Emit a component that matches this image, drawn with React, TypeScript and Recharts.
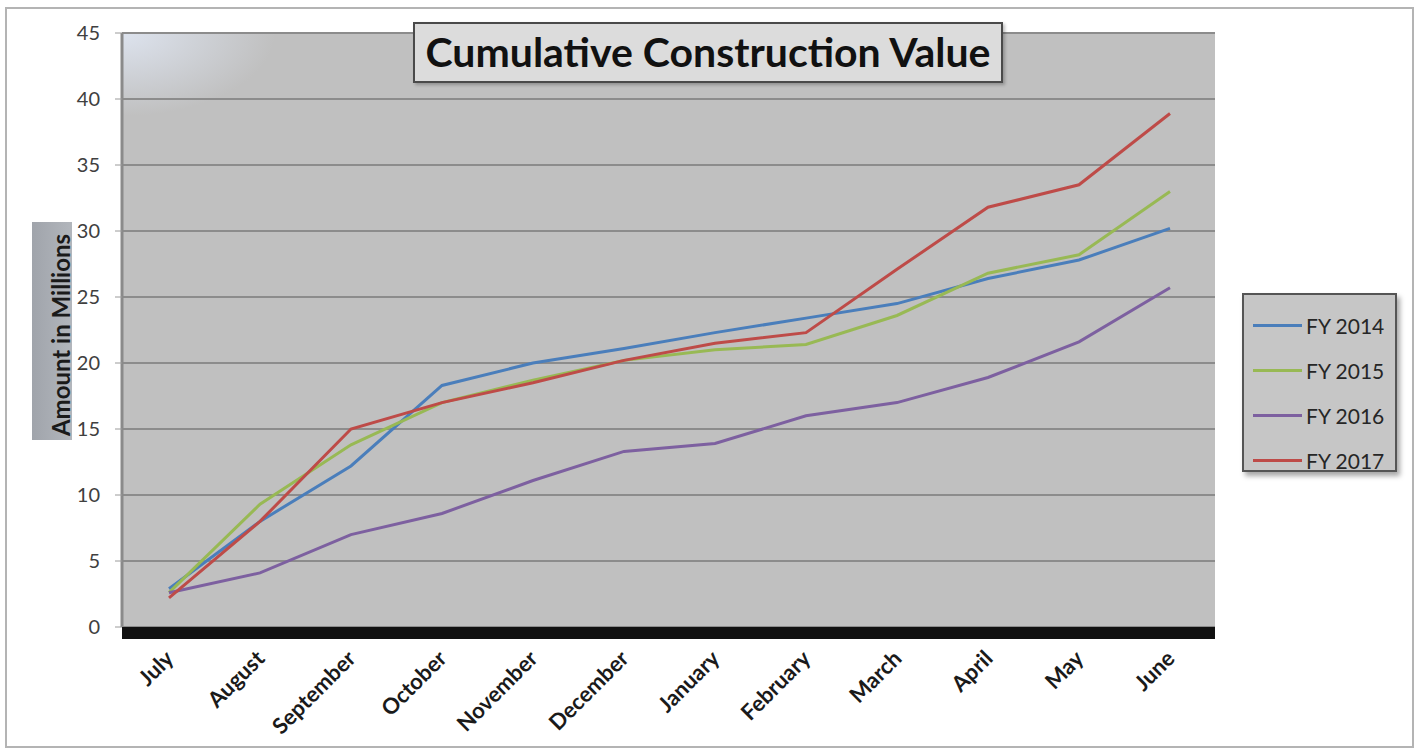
import React from "react";
import {
  CartesianGrid,
  Legend,
  Line,
  LineChart,
  XAxis,
  YAxis,
} from "recharts";

const months = [
  "July",
  "August",
  "September",
  "October",
  "November",
  "December",
  "January",
  "February",
  "March",
  "April",
  "May",
  "June",
];

const fy2014 = [2.9, 8.0, 12.2, 18.3, 20.0, 21.1, 22.3, 23.4, 24.5, 26.4, 27.8, 30.2];
const fy2015 = [2.6, 9.3, 13.8, 17.0, 18.7, 20.2, 21.0, 21.4, 23.6, 26.8, 28.2, 33.0];
const fy2016 = [2.6, 4.1, 7.0, 8.6, 11.1, 13.3, 13.9, 16.0, 17.0, 18.9, 21.6, 25.7];
const fy2017 = [2.2, 8.0, 15.0, 17.0, 18.5, 20.2, 21.5, 22.3, 27.1, 31.8, 33.5, 38.9];

const yTicks = [0, 5, 10, 15, 20, 25, 30, 35, 40, 45];

const series = [
  { key: "fy2014", name: "FY 2014", values: fy2014, color: "#4a7ebb" },
  { key: "fy2015", name: "FY 2015", values: fy2015, color: "#98b954" },
  { key: "fy2016", name: "FY 2016", values: fy2016, color: "#7d60a0" },
  { key: "fy2017", name: "FY 2017", values: fy2017, color: "#be4b48" },
];

const data = months.map((m, i) => {
  const row: Record<string, string | number> = { month: m };
  series.forEach((s) => (row[s.key] = s.values[i]));
  return row;
});

const FONT = "Lato, 'Open Sans', sans-serif";

function MonthTick({ x, y, payload }: any) {
  return (
    <g transform={`translate(${x + 6},${y + 33})`}>
      <text
        transform="rotate(-45)"
        textAnchor="end"
        fontFamily={FONT}
        fontWeight={700}
        fontSize={22}
        fill="#1a1a1a"
      >
        {payload.value}
      </text>
    </g>
  );
}

function LegendBox({ payload }: any) {
  return (
    <div
      style={{
        boxSizing: "border-box",
        width: 155,
        height: 179,
        background: "#c6c6c6",
        border: "2px solid #555",
        boxShadow: "3px 4px 5px rgba(0,0,0,0.35)",
        paddingTop: 8,
        fontFamily: FONT,
      }}
    >
      {(payload || []).map((p: any) => (
        <div
          key={p.value}
          style={{ display: "flex", alignItems: "center", height: 45 }}
        >
          <div
            style={{
              width: 49,
              height: 3,
              marginLeft: 9,
              marginRight: 4,
              background: p.color,
            }}
          />
          <span style={{ fontSize: 21, color: "#262626" }}>{p.value}</span>
        </div>
      ))}
    </div>
  );
}

export default function App() {
  return (
    <div
      style={{
        position: "absolute",
        left: 0,
        top: 0,
        width: 1418,
        height: 753,
        background: "#fff",
        overflow: "hidden",
      }}
    >
      <svg width="0" height="0" style={{ position: "absolute" }}>
        <defs>
          <radialGradient id="wallGlow" cx="0" cy="0" r="0.14">
            <stop offset="0%" stopColor="#dde3ee" />
            <stop offset="100%" stopColor="#c0c0c0" />
          </radialGradient>
        </defs>
      </svg>
      <div
        style={{
          position: "absolute",
          left: 5,
          top: 7,
          width: 1405,
          height: 737,
          border: "2px solid #b4b4b4",
        }}
      />
      <LineChart
        width={1418}
        height={753}
        data={data}
        margin={{ top: 33, right: 203, bottom: 26, left: 62 }}
        style={{ position: "absolute", left: 0, top: 0 }}
      >
        <CartesianGrid
          vertical={false}
          stroke="#8c8c8c"
          strokeWidth={2}
          fill="url(#wallGlow)"
          fillOpacity={1}
        />
        <XAxis
          dataKey="month"
          height={100}
          interval={0}
          padding={{ left: 47, right: 45 }}
          tickLine={false}
          tickSize={0}
          tickMargin={0}
          tick={<MonthTick />}
          axisLine={{ stroke: "#111", strokeWidth: 12, transform: "translate(0,6)" }}
        />
        <YAxis
          width={60}
          domain={[0, 45]}
          ticks={yTicks}
          interval={0}
          tickSize={7}
          tickMargin={15}
          tickLine={{ stroke: "#9a9a9a" }}
          axisLine={{ stroke: "#8a8a8a", strokeWidth: 3 }}
          tick={{ fill: "#404040", fontSize: 20, fontFamily: FONT }}
        />
        <YAxis
          yAxisId="wall"
          orientation="right"
          width={0}
          tick={false}
          tickLine={false}
          axisLine={{ stroke: "#9a9a9a", strokeWidth: 2 }}
        />
        <Legend
          layout="vertical"
          align="center"
          verticalAlign="middle"
          content={<LegendBox />}
          wrapperStyle={{ left: 1242, top: 293, width: 155, height: 179 }}
        />
        {series.map((s) => (
          <Line
            key={s.key}
            type="linear"
            dataKey={s.key}
            name={s.name}
            stroke={s.color}
            strokeWidth={3}
            dot={false}
            isAnimationActive={false}
          />
        ))}
      </LineChart>
      <div
        style={{
          position: "absolute",
          left: 413,
          top: 22,
          width: 590,
          height: 61,
          boxSizing: "border-box",
          background: "#dcdcdc",
          border: "2px solid #4a4a4a",
          boxShadow: "2px 2px 3px rgba(0,0,0,0.25)",
          fontFamily: FONT,
          fontWeight: 700,
          fontSize: 41,
          lineHeight: "55px",
          textAlign: "center",
          color: "#111",
        }}
      >
        Cumulative Construction Value
      </div>
      <div
        style={{
          position: "absolute",
          left: 32,
          top: 222,
          width: 40,
          height: 218,
          background: "linear-gradient(to right, #a0a4ab, #b2b6bc)",
        }}
      />
      <svg
        width={100}
        height={753}
        style={{ position: "absolute", left: 0, top: 0, pointerEvents: "none" }}
      >
        <text
          transform="translate(70,335) rotate(-90)"
          textAnchor="middle"
          fontFamily={FONT}
          fontWeight={700}
          fontSize={24}
          fill="#1a1a1a"
        >
          Amount in Millions
        </text>
      </svg>
    </div>
  );
}
